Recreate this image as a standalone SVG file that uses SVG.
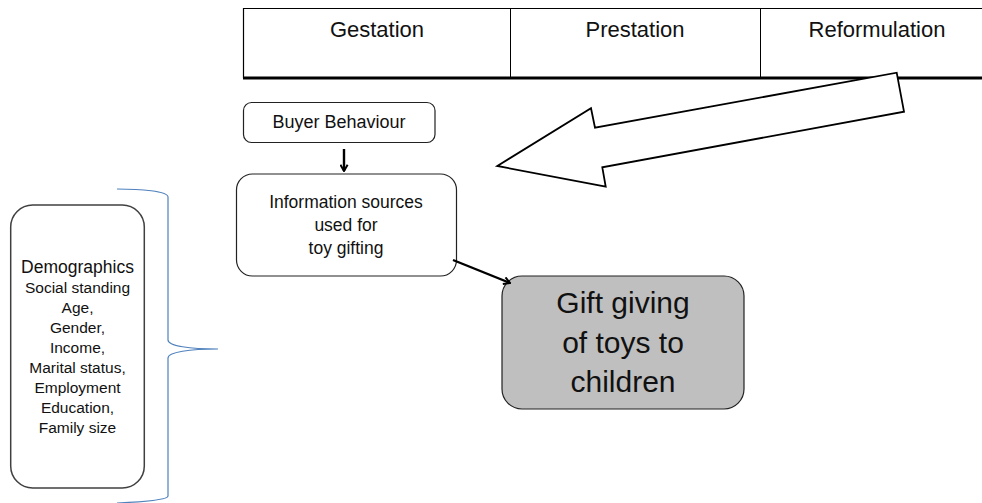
<svg xmlns="http://www.w3.org/2000/svg" width="982" height="503" viewBox="0 0 982 503">
  <defs>
    <style>
      .txt { font-family: "Liberation Sans", Arial, sans-serif; fill: #111; text-anchor: middle; }
      .box { fill: #fff; stroke: #222; stroke-width: 1.2; }
      .edge { stroke: #000; stroke-width: 2.4; fill: none; }
    </style>
    <marker id="head" viewBox="0 0 10 10" refX="8.5" refY="5" markerWidth="9" markerHeight="9" orient="auto" markerUnits="userSpaceOnUse">
      <path d="M1.5,1 L8.5,5 L1.5,9" fill="none" stroke="#000" stroke-width="2.2"/>
    </marker>
  </defs>
  <rect width="982" height="503" fill="#fff"/>

  <!-- phase table -->
  <g id="phases">
    <line x1="243" y1="8.5" x2="982" y2="8.5" stroke="#000" stroke-width="1.2"/>
    <line x1="243.5" y1="8" x2="243.5" y2="78" stroke="#000" stroke-width="1.2"/>
    <line x1="510.5" y1="8" x2="510.5" y2="78" stroke="#000" stroke-width="1"/>
    <line x1="760.5" y1="8" x2="760.5" y2="78" stroke="#000" stroke-width="1"/>
    <line x1="243" y1="78" x2="982" y2="78" stroke="#000" stroke-width="3"/>
    <text class="txt" x="377" y="37" font-size="22">Gestation</text>
    <text class="txt" x="635" y="37" font-size="22">Prestation</text>
    <text class="txt" x="877" y="37" font-size="22">Reformulation</text>
  </g>

  <!-- block arrow pointing back from the reformulation phase -->
  <g id="feedback-arrow">
    <polygon points="497.3,166 591,108.3 595,127.7 896.7,72.7 904,111.7 602.3,167.3 605.7,186.7" fill="#fff" stroke="#000" stroke-width="1.8" stroke-linejoin="miter"/>
  </g>

  <g id="buyer-behaviour">
    <rect class="box" x="243.5" y="102.5" width="191.5" height="40" rx="8"/>
    <text class="txt" x="339" y="128" font-size="18">Buyer Behaviour</text>
  </g>

  <g id="information-sources">
    <rect class="box" x="236.5" y="174" width="220" height="102" rx="16"/>
    <text class="txt" x="346" y="208" font-size="17.5">Information sources</text>
    <text class="txt" x="346" y="231" font-size="17.5">used for</text>
    <text class="txt" x="346" y="254" font-size="17.5">toy gifting</text>
  </g>

  <g id="gift-giving">
    <rect x="502" y="276" width="242" height="133" rx="20" fill="#bfbfbf" stroke="#222" stroke-width="1.2"/>
    <text class="txt" x="623" y="313" font-size="30">Gift giving</text>
    <text class="txt" x="623" y="353" font-size="30">of toys to</text>
    <text class="txt" x="623" y="392" font-size="30">children</text>
  </g>

  <g id="demographics">
    <rect x="10.7" y="205" width="133.6" height="283" rx="22" fill="#fff" stroke="#404040" stroke-width="1.5"/>
    <text class="txt" x="77.5" y="273" font-size="17.5">Demographics</text>
    <text class="txt" x="77.5" y="293" font-size="15.5">Social standing</text>
    <text class="txt" x="77.5" y="313" font-size="15.5">Age,</text>
    <text class="txt" x="77.5" y="333" font-size="15.5">Gender,</text>
    <text class="txt" x="77.5" y="353" font-size="15.5">Income,</text>
    <text class="txt" x="77.5" y="373" font-size="15.5">Marital status,</text>
    <text class="txt" x="77.5" y="393" font-size="15.5">Employment</text>
    <text class="txt" x="77.5" y="413" font-size="15.5">Education,</text>
    <text class="txt" x="77.5" y="433" font-size="15.5">Family size</text>
  </g>

  <g id="connectors">
    <line class="edge" x1="344" y1="149" x2="344" y2="171" marker-end="url(#head)"/>
    <line class="edge" x1="453" y1="260" x2="510" y2="283" marker-end="url(#head)"/>
    <!-- curly brace grouping the demographic factors -->
    <path d="M117,189 C140,189 168,191 168,197 L168,340 C168,346 190,349 218,349 C190,349 168,352 168,358 L168,496 C168,500 140,502 117,503" fill="none" stroke="#4f81bd" stroke-width="1.2"/>
  </g>
</svg>
